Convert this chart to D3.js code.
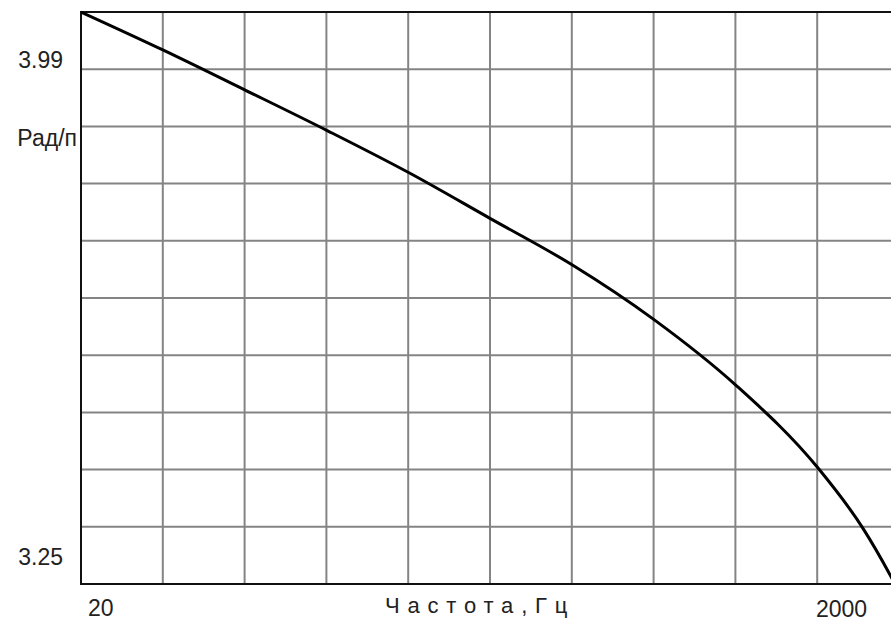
<!DOCTYPE html>
<html>
<head>
<meta charset="utf-8">
<script src="https://cdn.jsdelivr.net/npm/d3@7"></script>
<style>
  body { margin: 0; background: #fff; }
  svg { display: block; }
</style>
</head>
<body>
<div id="container"></div>
<script>
/* CONSTANTS AND GLOBALS */
const width = 891,
  height = 621,
  margin = { top: 12, left: 81 },
  plotW = 818,
  plotH = 572;

// frequency (Hz) and phase (Рад/п)
const freq = [20, 31.7, 50.4, 80.4, 126.8, 200, 317.4, 503.6, 799, 1268, 1633, 1901, 2000];
const phase = [3.990, 3.941, 3.889, 3.836, 3.782, 3.723, 3.663, 3.592, 3.507, 3.400, 3.322, 3.262, 3.240];

const xLabels = ["20", "2000"];
const yLabels = ["3.99", "3.25"];
const yTitle = "Рад/п";
const xTitle = "Частота,Гц";
const divisions = 10;

/* SCALES */
const xScale = d3.scaleLog()
  .domain([20, 2000])
  .range([margin.left, margin.left + plotW]);

const yScale = d3.scaleLinear()
  .domain([3.25, 3.99])
  .range([margin.top + plotH, margin.top]);

// evenly spaced grid, like the old plotting window
const gridX = d3.scaleLinear().domain([0, divisions]).range(xScale.range());
const gridY = d3.scaleLinear().domain([0, divisions]).range(yScale.range());

/* DRAW */
const svg = d3.select("#container")
  .append("svg")
  .attr("width", width)
  .attr("height", height)
  .style("background-color", "#fff");

svg.append("defs").append("clipPath")
  .attr("id", "plot-clip")
  .append("rect")
  .attr("x", margin.left)
  .attr("y", margin.top - 2)
  .attr("width", plotW)
  .attr("height", plotH + 2);

// grid
svg.append("g")
  .selectAll("line")
  .data(d3.range(1, divisions))
  .join("line")
  .attr("x1", d => gridX(d))
  .attr("x2", d => gridX(d))
  .attr("y1", margin.top)
  .attr("y2", margin.top + plotH)
  .attr("stroke", "#848484")
  .attr("stroke-width", 2);

svg.append("g")
  .selectAll("line")
  .data(d3.range(1, divisions))
  .join("line")
  .attr("y1", d => gridY(d))
  .attr("y2", d => gridY(d))
  .attr("x1", margin.left)
  .attr("x2", margin.left + plotW)
  .attr("stroke", "#848484")
  .attr("stroke-width", 2);

// frame
svg.append("rect")
  .attr("x", margin.left)
  .attr("y", margin.top)
  .attr("width", plotW)
  .attr("height", plotH)
  .attr("fill", "none")
  .attr("stroke", "#111")
  .attr("stroke-width", 2);

// curve
const line = d3.line()
  .x((d, i) => xScale(freq[i]))
  .y(d => yScale(d))
  .curve(d3.curveMonotoneX);

svg.append("path")
  .datum(phase)
  .attr("clip-path", "url(#plot-clip)")
  .attr("d", line)
  .attr("fill", "none")
  .attr("stroke", "#000")
  .attr("stroke-width", 3)
  .attr("stroke-linejoin", "round");

// text
const font = "'Liberation Sans', Arial, sans-serif";

svg.append("text")
  .attr("x", 63).attr("y", 68)
  .attr("text-anchor", "end")
  .style("font-family", font).style("font-size", "23px").attr("fill", "#222")
  .text(yLabels[0]);

svg.append("text")
  .attr("x", 77).attr("y", 146)
  .attr("text-anchor", "end")
  .style("font-family", font).style("font-size", "23px").attr("fill", "#222")
  .text(yTitle);

svg.append("text")
  .attr("x", 63).attr("y", 565)
  .attr("text-anchor", "end")
  .style("font-family", font).style("font-size", "23px").attr("fill", "#222")
  .text(yLabels[1]);

svg.append("text")
  .attr("x", 88).attr("y", 616)
  .style("font-family", font).style("font-size", "23px").attr("fill", "#222")
  .text(xLabels[0]);

svg.append("text")
  .attr("x", 816).attr("y", 617)
  .style("font-family", font).style("font-size", "23px").attr("fill", "#222")
  .text(xLabels[1]);

svg.append("text")
  .attr("x", 385).attr("y", 613)
  .style("font-family", font).style("font-size", "22px").style("letter-spacing", "7.8px")
  .attr("fill", "#222")
  .text(xTitle);
</script>
</body>
</html>
